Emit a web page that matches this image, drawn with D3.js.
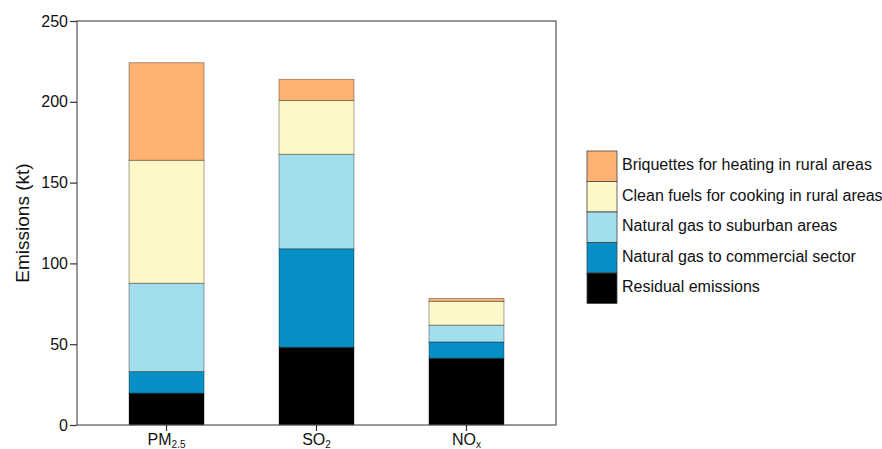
<!DOCTYPE html>
<html>
<head>
<meta charset="utf-8">
<script src="https://cdn.jsdelivr.net/npm/d3@7"></script>
<style>
  body { margin: 0; background: #fff; }
  text { font-family: "Liberation Sans", Arial, Helvetica, sans-serif; }
</style>
</head>
<body>
<div id="chart"></div>
<script>
// pollutants on the x axis (main text + subscript)
const pollutants = ["PM2.5", "SO2", "NOx"]
const pollutantMain = ["PM", "SO", "NO"]
const pollutantSub = ["2.5", "2", "x"]

// stacked series, bottom to top
const seriesKeys = ["residual", "commercial", "suburban", "cooking", "briquettes"]
const seriesNames = [
  "Residual emissions",
  "Natural gas to commercial sector",
  "Natural gas to suburban areas",
  "Clean fuels for cooking in rural areas",
  "Briquettes for heating in rural areas"
]
const residual = [19.7, 48.1, 41.3]
const commercial = [13.4, 61.0, 10.1]
const suburban = [54.6, 58.4, 10.4]
const cooking = [76.1, 33.3, 14.7]
const briquettes = [60.4, 13.1, 1.8]

const yTicks = [0, 50, 100, 150, 200, 250]

const colors = ["#000000", "#0790c5", "#a2deeb", "#fef8c8", "#fdb273"]

const width = 882, height = 449
const margin = { left: 77, top: 21, right: 326, bottom: 24 }

const svg = d3.select("#chart").append("svg")
  .attr("width", width)
  .attr("height", height)

const x = d3.scaleBand()
  .domain(pollutants)
  .range([margin.left, width - margin.right])
  .paddingInner(0.5)
  .paddingOuter(0.347)

const y = d3.scaleLinear()
  .domain([0, 250])
  .range([height - margin.bottom, margin.top])

// build rows for d3.stack
const rows = pollutants.map((p, i) => ({
  pollutant: p,
  residual: residual[i],
  commercial: commercial[i],
  suburban: suburban[i],
  cooking: cooking[i],
  briquettes: briquettes[i]
}))
const stacked = d3.stack().keys(seriesKeys)(rows)

// bars
svg.append("g")
  .selectAll("g")
  .data(stacked)
  .join("g")
    .attr("fill", (d, i) => colors[i])
  .selectAll("rect")
  .data(d => d)
  .join("rect")
    .attr("x", d => x(d.data.pollutant))
    .attr("y", d => y(d[1]))
    .attr("width", x.bandwidth())
    .attr("height", d => y(d[0]) - y(d[1]))
    .attr("stroke", "#000")
    .attr("stroke-opacity", 0.35)
    .attr("stroke-width", 1)

// frame
svg.append("rect")
  .attr("x", margin.left)
  .attr("y", margin.top)
  .attr("width", width - margin.right - margin.left)
  .attr("height", height - margin.bottom - margin.top)
  .attr("fill", "none")
  .attr("stroke", "#555")
  .attr("stroke-width", 1.2)

// y axis
const yAxis = svg.append("g")
  .attr("transform", `translate(${margin.left},0)`)
  .call(d3.axisLeft(y).tickValues(yTicks).tickSize(7).tickPadding(2))
yAxis.select(".domain").remove()
yAxis.selectAll(".tick line").attr("stroke", "#333").attr("stroke-width", 1.2)
yAxis.selectAll(".tick text")
  .attr("fill", "#111")
  .style("font-size", "16px")
  .style("font-family", '"Liberation Sans", Arial, sans-serif')

// x axis
const xAxis = svg.append("g")
  .attr("transform", `translate(0,${height - margin.bottom})`)
  .call(d3.axisBottom(x).tickSize(6).tickFormat(""))
xAxis.select(".domain").remove()
xAxis.selectAll(".tick line").attr("stroke", "#333").attr("stroke-width", 1.2)

pollutants.forEach((p, i) => {
  const t = svg.append("text")
    .attr("x", x(p) + x.bandwidth() / 2)
    .attr("y", height - margin.bottom + 20)
    .attr("text-anchor", "middle")
    .attr("fill", "#111")
    .style("font-size", "16px")
  t.append("tspan").text(pollutantMain[i])
  t.append("tspan")
    .attr("dy", 3)
    .style("font-size", "10px")
    .text(pollutantSub[i])
})

// y axis title
svg.append("text")
  .attr("transform", `translate(24,${(margin.top + height - margin.bottom) / 2}) rotate(-90)`)
  .attr("text-anchor", "middle")
  .attr("dominant-baseline", "middle")
  .attr("fill", "#111")
  .style("font-size", "19px")
  .text("Emissions (kt)")

// legend, top item = top of the stack
const legendX = 587, legendY = 151, box = 30.5
const legendItems = seriesNames.map((n, i) => ({ name: n, color: colors[i] })).reverse()
const legend = svg.append("g")
legendItems.forEach((item, i) => {
  legend.append("rect")
    .attr("x", legendX)
    .attr("y", legendY + i * box)
    .attr("width", 30)
    .attr("height", box)
    .attr("fill", item.color)
    .attr("stroke", "#444")
    .attr("stroke-width", 0.8)
  legend.append("text")
    .attr("x", legendX + 35)
    .attr("y", legendY + i * box + box / 2)
    .attr("dominant-baseline", "middle")
    .attr("fill", "#111")
    .style("font-size", "16px")
    .text(item.name)
})
</script>
</body>
</html>
